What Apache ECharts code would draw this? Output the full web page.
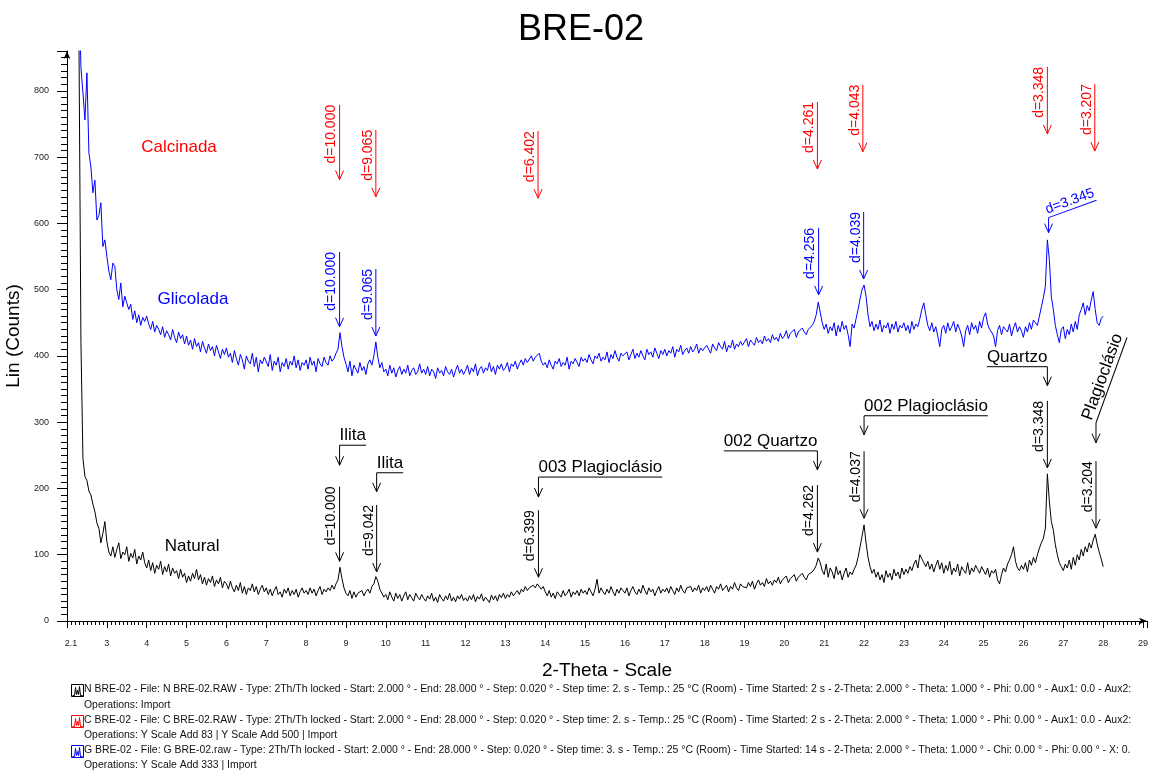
<!DOCTYPE html>
<html><head><meta charset="utf-8">
<script src="https://cdn.jsdelivr.net/npm/echarts@6/dist/echarts.min.js"></script>
<style>html,body{margin:0;padding:0;background:#fff}#c{width:1151px;height:774px}</style>
</head><body><div id="c"></div>
<script>
// ---- scan grid (2-Theta), one row per degree ----
const SCAN_START = 2.0, SCAN_STEP = 0.05;

// ---- Natural (black), counts every 0.05° from 2.00 to 28.00 ----
const natural = [
 3000,2500,2000,1600,1250,1000,880,420,245,218,212,196,190,176,165,148,140,118,132,150,
 120,104,98,112,96,108,118,94,104,100,112,90,102,95,108,86,98,92,104,88,
 80,92,76,88,72,84,78,90,70,82,74,86,68,80,72,76,64,78,66,72,
 58,68,60,72,64,78,62,70,56,66,54,64,58,68,52,62,56,66,50,60,
 56,48,60,50,44,54,46,58,42,52,40,50,46,56,44,52,40,48,54,44,
 50,40,48,38,46,52,40,44,36,48,42,50,38,46,40,48,36,44,50,42,
 46,40,50,42,48,38,46,52,40,48,44,50,46,54,48,56,62,81,64,50,
 42,38,46,34,44,36,42,40,46,38,44,48,42,52,56,67,60,48,42,36,
 40,32,44,36,30,42,34,40,30,38,44,32,40,35,30,42,36,32,40,34,
 30,38,33,42,30,36,28,40,34,30,38,32,42,30,36,29,38,33,40,31,
 35,30,38,32,40,29,37,33,41,30,36,34,28,39,32,38,30,40,35,42,
 34,40,36,44,38,42,46,40,48,44,52,46,50,48,54,50,56,59,48,52,
 44,38,46,36,42,34,44,40,36,46,38,42,48,36,44,40,46,38,48,42,
 46,40,50,44,38,48,63,42,50,44,40,48,42,52,44,38,48,42,50,46,
 42,50,38,46,52,44,40,48,42,54,46,40,50,44,48,38,46,52,42,48,
 44,50,42,52,46,40,50,44,54,46,42,50,48,52,44,50,46,54,42,50,
 46,52,44,54,48,42,52,48,56,46,50,54,44,52,48,58,50,46,56,52,
 54,50,58,52,60,48,56,62,54,58,52,64,56,60,54,62,58,66,56,62,
 60,68,58,64,62,70,60,66,64,72,66,62,70,68,74,78,84,95,88,76,
 70,86,66,80,74,64,82,70,76,62,72,80,66,74,70,78,84,96,112,128,
 145,118,96,82,72,78,66,74,62,70,58,76,66,72,62,78,68,74,64,80,
 70,78,72,82,76,86,92,80,100,94,88,82,90,78,86,74,84,92,78,88,
 72,84,76,90,70,80,74,86,68,82,76,72,88,70,80,74,84,78,72,82,
 84,70,80,66,76,72,78,62,56,70,80,74,86,92,100,112,90,80,76,84,
 78,88,74,92,84,96,88,100,110,118,125,140,222,180,150,137,115,100,88,82,
 76,86,80,92,78,96,84,100,92,108,98,112,104,118,110,122,131,116,104,94,
 82
];

// ---- Glicolada (blue) ----
const glicolada = [
 3000,2600,2200,1800,1450,1150,950,835,797,756,827,706,685,646,665,605,612,631,565,575,
 550,528,515,540,535,500,485,510,474,490,480,470,478,455,468,450,462,446,458,452,
 460,448,440,452,436,446,440,432,444,428,438,432,424,440,428,420,436,426,432,418,
 430,416,424,410,426,414,420,406,422,412,404,418,408,414,400,416,406,396,410,402,
 412,398,404,390,408,396,386,402,394,380,400,392,388,404,384,398,376,394,388,398,
 396,384,402,378,392,386,398,376,390,384,396,380,392,386,400,382,394,378,390,386,
 394,380,398,386,392,376,396,388,384,398,390,386,400,392,396,404,410,435,414,398,
 388,376,392,370,386,380,374,390,378,384,372,388,394,386,400,421,398,382,390,376,
 380,370,386,374,382,368,378,384,372,380,374,386,370,378,382,372,376,388,374,380,
 372,384,370,380,376,366,382,374,378,370,384,376,372,380,368,378,386,374,380,372,
 378,386,372,382,376,388,370,380,384,374,382,378,390,376,384,372,386,380,388,378,
 382,390,376,388,384,392,380,388,394,386,396,390,388,400,392,398,396,404,392,386,
 390,382,394,386,380,392,388,396,384,390,386,398,380,392,388,396,390,384,398,392,
 396,390,402,394,388,400,396,404,392,398,394,406,390,402,396,408,398,392,404,400,
 398,406,394,402,410,396,404,398,408,400,394,410,402,406,398,412,404,396,408,402,
 410,400,408,404,414,398,410,406,416,402,408,412,404,414,406,410,418,404,412,408,
 406,416,410,404,418,412,408,420,414,410,422,406,416,412,424,410,418,414,422,416,
 418,426,414,424,420,416,428,420,424,418,430,422,426,420,432,424,428,422,434,426,
 430,438,426,434,432,440,428,436,434,442,436,432,440,438,446,452,462,481,466,450,
 440,448,434,444,438,450,430,446,436,452,440,446,432,414,448,442,456,470,486,500,
 507,490,462,444,452,438,448,440,454,436,446,442,450,434,448,440,452,436,446,442,
 450,438,446,434,452,440,448,444,456,470,480,462,446,438,450,436,444,430,414,440,
 446,434,450,438,444,452,436,448,440,430,414,438,446,432,450,440,446,434,452,442,
 458,465,448,440,436,430,414,438,446,432,444,440,436,448,430,442,450,436,444,438,
 428,444,436,450,440,454,450,446,460,474,488,505,575,545,489,470,446,432,420,440,
 444,426,440,432,448,436,452,440,462,470,480,462,476,468,484,497,470,450,446,456,
 460
];

// ---- tick labels ----
const yTickLabels = ['0','100','200','300','400','500','600','700','800'];
const xTickLabels = ['2.1','3','4','5','6','7','8','9','10','11','12','13','14','15','16','17','18','19','20','21','22','23','24','25','26','27','28','29'];

// ---- peak annotations: [2-Theta, counts at arrow tip] ----
const calcPeakX   = [8.84, 9.75, 13.82, 20.83, 21.97, 26.60, 27.79];
const calcPeakTip = [666, 640, 638, 682, 708, 735, 709];
const calcPeakTxt = ['d=10.000','d=9.065','d=6.402','d=4.261','d=4.043','d=3.348','d=3.207'];

const glicPeakX   = [8.84, 9.75, 20.86, 21.99];
const glicPeakTip = [444, 430, 492, 516];
const glicPeakTxt = ['d=10.000','d=9.065','d=4.256','d=4.039'];
const glicQtzX = [26.63], glicQtzTip = [586], glicQtzTxt = ['d=3.345'];

const natPeakX   = [8.84, 9.77, 13.83, 20.83, 22.00, 26.60, 27.82];
const natPeakTip = [90, 74, 66, 104, 155, 231, 140];
const natPeakTxt = ['d=10.000','d=9.042','d=6.399','d=4.262','d=4.037','d=3.348','d=3.204'];

const mineralX   = [8.84, 9.77, 13.83, 20.83, 22.00, 26.60, 27.82];
const mineralTip = [235, 195, 187, 228, 281, 355, 269];
const mineralTxt = ['Ilita','Ilita','003 Plagioclásio','002 Quartzo','002 Plagioclásio','Quartzo','Plagioclásio'];

const sampleLabelX = [4.81, 5.16, 5.14];
const sampleLabelY = [714, 485, 113];
const sampleLabelTxt = ['Calcinada','Glicolada','Natural'];

const legendLines = [
 'N BRE-02 - File: N BRE-02.RAW - Type: 2Th/Th locked - Start: 2.000 ° - End: 28.000 ° - Step: 0.020 ° - Step time: 2. s - Temp.: 25 °C (Room) - Time Started: 2 s - 2-Theta: 2.000 ° - Theta: 1.000 ° - Phi: 0.00 ° - Aux1: 0.0 - Aux2:',
 'Operations: Import',
 'C BRE-02 - File: C BRE-02.RAW - Type: 2Th/Th locked - Start: 2.000 ° - End: 28.000 ° - Step: 0.020 ° - Step time: 2. s - Temp.: 25 °C (Room) - Time Started: 2 s - 2-Theta: 2.000 ° - Theta: 1.000 ° - Phi: 0.00 ° - Aux1: 0.0 - Aux2:',
 'Operations: Y Scale Add 83 | Y Scale Add 500 | Import',
 'G BRE-02 - File: G BRE-02.raw - Type: 2Th/Th locked - Start: 2.000 ° - End: 28.000 ° - Step: 0.020 ° - Step time: 3. s - Temp.: 25 °C (Room) - Time Started: 14 s - 2-Theta: 2.000 ° - Theta: 1.000 ° - Chi: 0.00 ° - Phi: 0.00 ° - X: 0.',
 'Operations: Y Scale Add 333 | Import'
];

// ---------------- rendering ----------------
const FONT = '"Liberation Sans", Arial, Helvetica, sans-serif';
const RED = '#ff0000', BLUE = '#0000ff', BLACK = '#000000';
const toPairs = arr => arr.map((v, i) => [+(SCAN_START + i * SCAN_STEP).toFixed(2), v]);
const zip = (xs, ys) => xs.map((x, i) => [x, ys[i]]);

const ctx2d = document.createElement('canvas').getContext('2d');
function textWidth(t, font) { ctx2d.font = font; return ctx2d.measureText(t).width; }

// generic "arrow + stem + underlined text" annotation
function labelRenderer(texts, styleFor) {
  return function (params, api) {
    const i = params.dataIndex;
    const o = styleFor(i);
    const p = api.coord([api.value(0), api.value(1)]);
    const font = o.fontSize + 'px ' + FONT;
    const w = textWidth(texts[i], font);
    const a = o.angle * Math.PI / 180;
    const bx = p[0], by = p[1] - o.stem;
    let ox = bx, oy = by;
    if (o.side === 'left') { ox = bx - w * Math.cos(a); oy = by + w * Math.sin(a); }
    return {
      type: 'group',
      children: [
        { type: 'line', shape: { x1: p[0], y1: p[1], x2: bx, y2: by }, style: { stroke: o.color, lineWidth: 1 } },
        { type: 'polyline', shape: { points: [[p[0] - 4, p[1] - 9], [p[0], p[1]], [p[0] + 4, p[1] - 9]] }, style: { stroke: o.color, fill: null, lineWidth: 1 } },
        { type: 'line', x: ox, y: oy, rotation: a, shape: { x1: 0, y1: 0, x2: w, y2: 0 }, style: { stroke: o.color, lineWidth: 1 } },
        { type: 'text', x: ox, y: oy, rotation: a, style: { text: texts[i], x: 0, y: -1, align: 'left', verticalAlign: 'bottom', fill: o.color, font: font } }
      ]
    };
  };
}

const dStyle = color => () => ({ color, fontSize: 14, angle: 90, side: 'right', stem: 16 });
const mineralStyles = [
  { side: 'right', angle: 0, stem: 20 },
  { side: 'right', angle: 0, stem: 19 },
  { side: 'right', angle: 0, stem: 20 },
  { side: 'left',  angle: 0, stem: 19 },
  { side: 'right', angle: 0, stem: 19 },
  { side: 'left',  angle: 0, stem: 19 },
  { side: 'right', angle: 70, stem: 20 }
];

function annoSeries(xs, ys, texts, styleFor) {
  return {
    type: 'custom', silent: true, clip: false, z: 5,
    data: zip(xs, ys),
    renderItem: labelRenderer(texts, styleFor)
  };
}

const sampleColors = [RED, BLUE, BLACK];

// legend graphics
const legendColors = [BLACK, RED, BLUE];
const legendY = [690, 706, 721, 736, 751, 766];
const graphics = [];
legendLines.forEach((t, i) => {
  graphics.push({ type: 'text', left: 84, top: legendY[i] - 6, style: { text: t, font: '10.45px ' + FONT, fill: '#111' } });
});
[0, 2, 4].forEach((li, k) => {
  const c = legendColors[k];
  const y0 = legendY[li] - 6;
  graphics.push({
    type: 'group', left: 70, top: y0,
    children: [
      { type: 'rect', shape: { x: 0, y: 0, width: 12, height: 12 }, style: { stroke: c, fill: '#fff', lineWidth: 1 } },
      { type: 'polyline', shape: { points: [[1, 11], [3, 11], [4, 3], [5, 10], [6, 6], [7, 10], [8, 2], [9, 11], [11, 11]] }, style: { stroke: c, fill: null, lineWidth: 1 } }
    ]
  });
});

const chart = echarts.init(document.getElementById('c'), null, { renderer: 'canvas' });
chart.setOption({
  animation: false,
  backgroundColor: '#fff',
  title: { text: 'BRE-02', left: 513, top: 7, textStyle: { fontFamily: FONT, fontSize: 36, fontWeight: 'normal', color: '#000' } },
  grid: { left: 67, right: 4, top: 51, bottom: 153, containLabel: false, outerBoundsMode: 'none' },
  xAxis: {
    type: 'value', min: 2, max: 29.1, interval: 1,
    name: '2-Theta - Scale', nameLocation: 'middle', nameGap: 40,
    nameTextStyle: { fontFamily: FONT, fontSize: 19, color: '#000' },
    axisLine: { lineStyle: { color: '#000', width: 1 }, symbol: ['none', 'arrow'], symbolSize: [5, 8] },
    axisTick: { show: true, inside: false, length: 7, lineStyle: { color: '#000' } },
    minorTick: { show: true, splitNumber: 10, length: 4, lineStyle: { color: '#000' } },
    splitLine: { show: false },
    axisLabel: {
      margin: 18, fontFamily: FONT, fontSize: 9, color: '#222',
      showMaxLabel: false,
      rich: { first: { fontFamily: FONT, fontSize: 9, color: '#222', padding: [0, 0, 0, 8] } },
      formatter: v => {
        const k = Math.round(v);
        if (Math.abs(v - k) > 1e-6 || !xTickLabels[k - 2]) return '';
        return k === 2 ? '{first|' + xTickLabels[0] + '}' : xTickLabels[k - 2];
      }
    }
  },
  yAxis: {
    type: 'value', min: 0, max: 860, interval: 100,
    name: 'Lin (Counts)', nameLocation: 'middle', nameGap: 41, nameRotate: 90,
    nameTextStyle: { fontFamily: FONT, fontSize: 19, color: '#000' },
    axisLine: { show: true, lineStyle: { color: '#000', width: 1 }, symbol: ['none', 'arrow'], symbolSize: [5, 8] },
    axisTick: { show: true, inside: false, length: 10, lineStyle: { color: '#000' } },
    minorTick: { show: true, splitNumber: 10, length: 6, lineStyle: { color: '#000' } },
    splitLine: { show: false },
    axisLabel: {
      margin: 18, fontFamily: FONT, fontSize: 9, color: '#222',
      formatter: v => { const k = Math.round(v / 100); return Math.abs(v - k * 100) < 1e-6 && yTickLabels[k] !== undefined ? yTickLabels[k] : ''; }
    }
  },
  series: [
    { name: 'Natural', type: 'line', data: toPairs(natural), showSymbol: false, symbol: 'none', clip: true, lineStyle: { color: BLACK, width: 1 }, silent: true, z: 3 },
    { name: 'Glicolada', type: 'line', data: toPairs(glicolada), showSymbol: false, symbol: 'none', clip: true, lineStyle: { color: BLUE, width: 1 }, silent: true, z: 3 },
    annoSeries(calcPeakX, calcPeakTip, calcPeakTxt, dStyle(RED)),
    annoSeries(glicPeakX, glicPeakTip, glicPeakTxt, dStyle(BLUE)),
    annoSeries(glicQtzX, glicQtzTip, glicQtzTxt, () => ({ color: BLUE, fontSize: 14, angle: 20, side: 'right', stem: 15 })),
    annoSeries(natPeakX, natPeakTip, natPeakTxt, dStyle(BLACK)),
    annoSeries(mineralX, mineralTip, mineralTxt, i => Object.assign({ color: BLACK, fontSize: 17 }, mineralStyles[i])),
    {
      type: 'custom', silent: true, clip: false, z: 5,
      data: zip(sampleLabelX, sampleLabelY),
      renderItem: (params, api) => {
        const p = api.coord([api.value(0), api.value(1)]);
        const i = params.dataIndex;
        return { type: 'text', x: p[0], y: p[1], style: { text: sampleLabelTxt[i], align: 'center', verticalAlign: 'middle', fill: sampleColors[i], font: '17px ' + FONT } };
      }
    }
  ],
  graphic: graphics
});
</script>
</body></html>
